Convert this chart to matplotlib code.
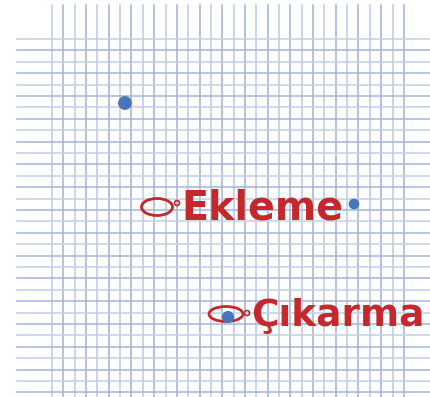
import numpy as np
import matplotlib.pyplot as plt
from matplotlib.patches import Ellipse, Circle

# grid (graph paper)
n_vert = 32
n_horz = 32
vert_x0, vert_step = 52, 11.35
horz_y0, horz_step = 39, 11.4

# blue points
point_x = [125, 354, 228]
point_y = [103, 204, 317]
point_size = [80, 45, 60]

# labels
labels = ["Ekleme", "Çıkarma"]
label_x = [181, 251]
label_y = [220, 326]
label_size = [28.5, 27]

# red ellipses in front of the labels
ell_x = [157, 226]
ell_y = [207, 314]
ell_w = [31, 34]
ell_h = [17, 15]
ring_x = [177, 247]
ring_y = [203, 313]

fig = plt.figure(figsize=(4.30, 3.97), dpi=100)
ax = fig.add_axes([0, 0, 1, 1])
ax.set_xlim(0, 430)
ax.set_ylim(397, 0)
ax.axis('off')

for i in range(n_vert):
    x = vert_x0 + vert_step * i
    c = '#9fb1d4' if i % 2 else '#bccae3'
    ax.plot([x, x], [5, 397], color=c, lw=1.1, zorder=1)
for i in range(n_horz):
    y = horz_y0 + horz_step * i
    c = '#a3b5d6' if i % 2 else '#c2cfe6'
    ax.plot([17, 430], [y, y], color=c, lw=1.1, zorder=1)

red = '#c3282c'
for x, y, w, h in zip(ell_x, ell_y, ell_w, ell_h):
    ax.add_patch(Ellipse((x, y), w, h, fill=False, ec=red, lw=2, zorder=3))
for x, y in zip(ring_x, ring_y):
    ax.add_patch(Circle((x, y), 2.5, fill=False, ec=red, lw=1.2, zorder=3))

ax.scatter(point_x, point_y, s=point_size, color='#4a74ba', marker='o', zorder=4)

for t, x, y, fs in zip(labels, label_x, label_y, label_size):
    ax.text(x, y, t, color=red, fontsize=fs, fontweight='bold',
            family='DejaVu Sans', ha='left', va='baseline', zorder=5)

fig.savefig('out.png', dpi=100)
